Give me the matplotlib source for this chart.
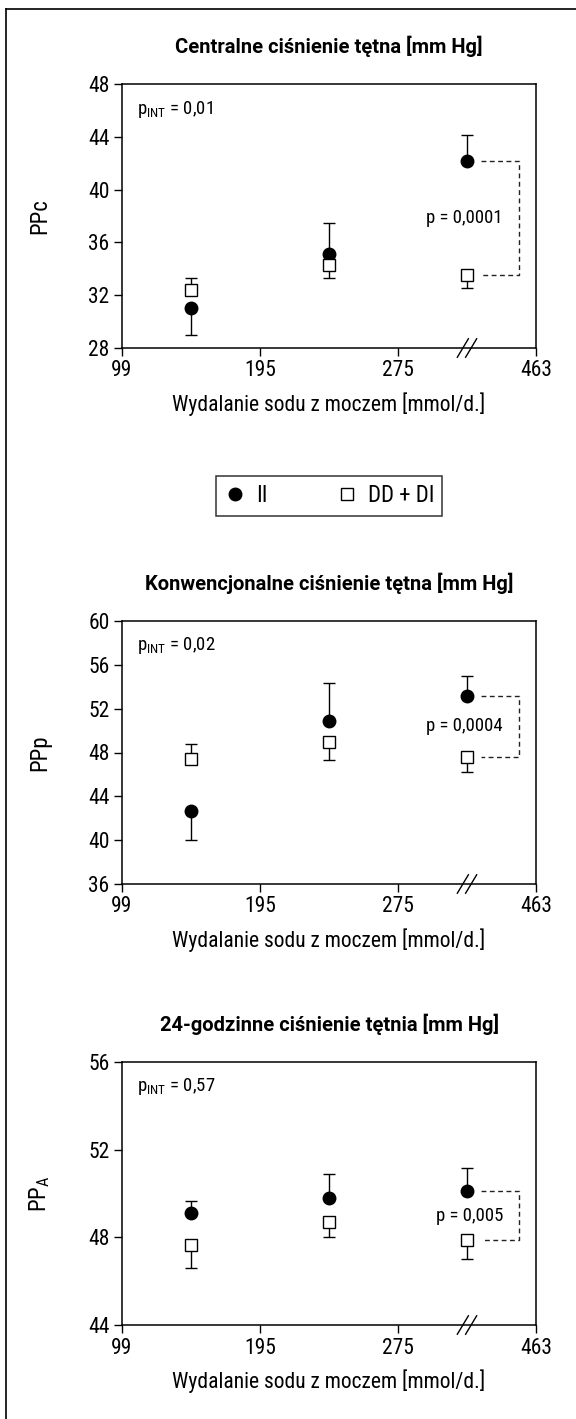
import numpy as np
import matplotlib.pyplot as plt
from matplotlib import font_manager
from matplotlib.lines import Line2D

# waski font jak w oryginale, jesli jest
installed = {f.name for f in font_manager.fontManager.ttflist}
main_font = 'DejaVu Sans'
for name in ['Liberation Sans Narrow', 'DejaVu Sans Condensed', 'Roboto Condensed',
             'Open Sans Condensed', 'Roboto', 'Liberation Sans']:
    if name in installed:
        main_font = name
        break
title_font = 'Roboto' if 'Roboto' in installed else main_font
plt.rcParams['font.family'] = [main_font, 'DejaVu Sans']
plt.rcParams['mathtext.fontset'] = 'custom'
plt.rcParams['mathtext.rm'] = main_font

# wydalanie sodu - kategorie (os x jest porzadkowa)
tick_labels = ['99', '195', '275', '463']
xpos = [0.5, 1.5, 2.5]

# PPc - centralne
ppc_ii = [31.0, 35.1, 42.2]
ppc_ii_lo = [2.0, 0, 0]
ppc_ii_hi = [0, 2.4, 1.95]
ppc_dd = [32.4, 34.3, 33.5]
ppc_dd_lo = [0, 1.0, 0.95]
ppc_dd_hi = [0.9, 0, 0]

# PPp - konwencjonalne
ppp_ii = [42.7, 50.9, 53.15]
ppp_ii_lo = [2.7, 0, 0]
ppp_ii_hi = [0, 3.45, 1.8]
ppp_dd = [47.4, 49.0, 47.6]
ppp_dd_lo = [0, 1.7, 1.35]
ppp_dd_hi = [1.35, 0, 0]

# PPA - 24-godzinne
ppa_ii = [49.1, 49.8, 50.1]
ppa_ii_lo = [0, 0, 0]
ppa_ii_hi = [0.57, 1.07, 1.08]
ppa_dd = [47.67, 48.7, 47.88]
ppa_dd_lo = [1.05, 0.7, 0.88]
ppa_dd_hi = [0, 0, 0]

titles = ['Centralne ciśnienie tętna [mm Hg]',
          'Konwencjonalne ciśnienie tętna [mm Hg]',
          '24-godzinne ciśnienie tętnia [mm Hg]']
ylabels = ['PPc', 'PPp', r'PP$_{\mathrm{A}}$']
p_int = ['0,01', '0,02', '0,57']
p_val = ['0,0001', '0,0004', '0,005']
ylims = [(28, 48), (36, 60), (44, 56)]
yticks = [[28, 32, 36, 40, 44, 48], [36, 40, 44, 48, 52, 56, 60], [44, 48, 52, 56]]

panels = [
    (ppc_ii, ppc_ii_lo, ppc_ii_hi, ppc_dd, ppc_dd_lo, ppc_dd_hi),
    (ppp_ii, ppp_ii_lo, ppp_ii_hi, ppp_dd, ppp_dd_lo, ppp_dd_hi),
    (ppa_ii, ppa_ii_lo, ppa_ii_hi, ppa_dd, ppa_dd_lo, ppa_dd_hi),
]

W, H = 576, 1419
fig = plt.figure(figsize=(W / 100, H / 100), dpi=100)

# pozycje osi w pikselach (gora, dol)
boxes = [(84, 348), (621, 884), (1062, 1325)]
left_px, right_px = 122, 536

for i, (top, bot) in enumerate(boxes):
    ax = fig.add_axes([left_px / W, 1 - bot / H, (right_px - left_px) / W, (bot - top) / H])
    ii, ii_lo, ii_hi, dd, dd_lo, dd_hi = panels[i]

    ax.errorbar(xpos, ii, yerr=[ii_lo, ii_hi], fmt='o', color='black', ms=9,
                ecolor='black', elinewidth=1.0, capsize=4, capthick=1.0, zorder=3)
    ax.errorbar(xpos, dd, yerr=[dd_lo, dd_hi], fmt='s', mfc='white', mec='black', mew=1.0,
                ms=8.5, ecolor='black', elinewidth=1.0, capsize=4, capthick=1.0, zorder=3)

    # nawias z p
    xa, xb = 2.6, 2.88
    ax.plot([xa, xb, xb, xa], [ii[2], ii[2], dd[2], dd[2]], color='#222222', lw=1.0,
            ls=(0, (3.5, 2.5)), zorder=2)
    ax.text(2.76, (ii[2] + dd[2]) / 2, 'p = ' + p_val[i], ha='right', va='center', fontsize=13.5)

    ax.text(0.036, 0.905, r'p$_{\mathrm{INT}}$ = ' + p_int[i], transform=ax.transAxes,
            ha='left', va='center', fontsize=13.5)

    ax.set_xlim(0, 3)
    ax.set_ylim(*ylims[i])
    ax.set_xticks([0, 1, 2, 3])
    ax.set_xticklabels(tick_labels)
    ax.set_yticks(yticks[i])
    ax.tick_params(direction='out', length=6, width=1.0, labelsize=15.5, pad=3)
    for s in ax.spines.values():
        s.set_linewidth(1.1)

    # znak przerwania osi //
    tr = ax.get_xaxis_transform()
    for dx in (-0.03, 0.03):
        ax.plot([2.5 + dx - 0.04, 2.5 + dx + 0.04], [-0.035, 0.035], color='black', lw=1.0,
                transform=tr, clip_on=False, zorder=4)

    ax.set_title(titles[i], fontsize=14.5, fontweight='bold', family=[title_font, 'DejaVu Sans'],
                 pad=22)
    ax.set_xlabel('Wydalanie sodu z moczem [mmol/d.]', fontsize=15.5, labelpad=8)
    ax.set_ylabel(ylabels[i], fontsize=16.5)
    ax.yaxis.set_label_coords(-0.17, 0.5)

# legenda
handles = [Line2D([], [], marker='o', ls='none', color='black', ms=9),
           Line2D([], [], marker='s', ls='none', mfc='white', mec='black', mew=1.0, ms=8.5)]
leg = fig.legend(handles, ['II', 'DD + DI'], loc='center', bbox_to_anchor=(329 / W, 1 - 496 / H),
                 ncol=2, fontsize=16.5, frameon=True, fancybox=False, edgecolor='black',
                 handletextpad=0.4, columnspacing=3.0, borderpad=0.35, handlelength=1.0)
leg.get_frame().set_linewidth(1.1)

# ramka
fig.add_artist(Line2D([6 / W, 6 / W], [0, 1 - 9 / H], transform=fig.transFigure, color='black', lw=1.2))
fig.add_artist(Line2D([6 / W, 1], [1 - 9 / H, 1 - 9 / H], transform=fig.transFigure, color='black', lw=1.2))

fig.savefig('out.png', dpi=100)
